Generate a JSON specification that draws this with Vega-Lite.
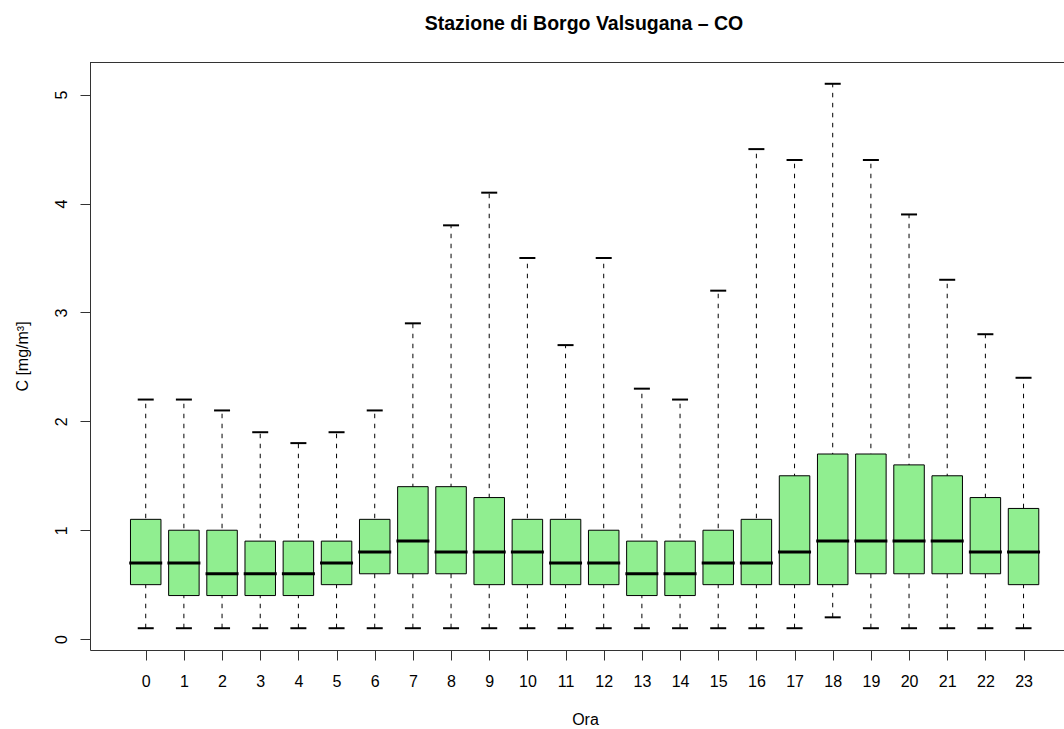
{
  "$schema": "https://vega.github.io/schema/vega-lite/v6.json",
  "autosize": {"type": "none"},
  "padding": {"left": 90, "top": 62, "right": 0, "bottom": 79},
  "width": 974,
  "height": 588,
  "background": "white",
  "config": {
    "font": "Liberation Sans",
    "view": {"stroke": null},
    "axis": {"grid": false}
  },
  "title": {
    "text": "Stazione di Borgo Valsugana – CO",
    "font": "Liberation Sans",
    "fontSize": 19.5,
    "fontWeight": "bold",
    "color": "black",
    "anchor": "middle",
    "dx": 7,
    "baseline": "alphabetic",
    "offset": 13
  },
  "data": {
    "values": [
      {"hour": 0, "low": 0.1, "q1": 0.5, "med": 0.7, "q3": 1.1, "high": 2.2},
      {"hour": 1, "low": 0.1, "q1": 0.4, "med": 0.7, "q3": 1.0, "high": 2.2},
      {"hour": 2, "low": 0.1, "q1": 0.4, "med": 0.6, "q3": 1.0, "high": 2.1},
      {"hour": 3, "low": 0.1, "q1": 0.4, "med": 0.6, "q3": 0.9, "high": 1.9},
      {"hour": 4, "low": 0.1, "q1": 0.4, "med": 0.6, "q3": 0.9, "high": 1.8},
      {"hour": 5, "low": 0.1, "q1": 0.5, "med": 0.7, "q3": 0.9, "high": 1.9},
      {"hour": 6, "low": 0.1, "q1": 0.6, "med": 0.8, "q3": 1.1, "high": 2.1},
      {"hour": 7, "low": 0.1, "q1": 0.6, "med": 0.9, "q3": 1.4, "high": 2.9},
      {"hour": 8, "low": 0.1, "q1": 0.6, "med": 0.8, "q3": 1.4, "high": 3.8},
      {"hour": 9, "low": 0.1, "q1": 0.5, "med": 0.8, "q3": 1.3, "high": 4.1},
      {"hour": 10, "low": 0.1, "q1": 0.5, "med": 0.8, "q3": 1.1, "high": 3.5},
      {"hour": 11, "low": 0.1, "q1": 0.5, "med": 0.7, "q3": 1.1, "high": 2.7},
      {"hour": 12, "low": 0.1, "q1": 0.5, "med": 0.7, "q3": 1.0, "high": 3.5},
      {"hour": 13, "low": 0.1, "q1": 0.4, "med": 0.6, "q3": 0.9, "high": 2.3},
      {"hour": 14, "low": 0.1, "q1": 0.4, "med": 0.6, "q3": 0.9, "high": 2.2},
      {"hour": 15, "low": 0.1, "q1": 0.5, "med": 0.7, "q3": 1.0, "high": 3.2},
      {"hour": 16, "low": 0.1, "q1": 0.5, "med": 0.7, "q3": 1.1, "high": 4.5},
      {"hour": 17, "low": 0.1, "q1": 0.5, "med": 0.8, "q3": 1.5, "high": 4.4},
      {"hour": 18, "low": 0.2, "q1": 0.5, "med": 0.9, "q3": 1.7, "high": 5.1},
      {"hour": 19, "low": 0.1, "q1": 0.6, "med": 0.9, "q3": 1.7, "high": 4.4},
      {"hour": 20, "low": 0.1, "q1": 0.6, "med": 0.9, "q3": 1.6, "high": 3.9},
      {"hour": 21, "low": 0.1, "q1": 0.6, "med": 0.9, "q3": 1.5, "high": 3.3},
      {"hour": 22, "low": 0.1, "q1": 0.6, "med": 0.8, "q3": 1.3, "high": 2.8},
      {"hour": 23, "low": 0.1, "q1": 0.5, "med": 0.8, "q3": 1.2, "high": 2.4}
    ]
  },
  "layer": [
    {
      "mark": {"type": "rule", "color": "black", "strokeWidth": 1, "strokeDash": [4.5, 5.5]},
      "encoding": {
        "x": {
          "field": "hour", "type": "quantitative",
          "scale": {"domain": [-1.46, 24.06], "nice": false, "zero": false, "padding": 0},
          "axis": {
            "orient": "bottom", "values": [0,1,2,3,4,5,6,7,8,9,10,11,12,13,14,15,16,17,18,19,20,21,22,23],
            "title": "Ora", "titleFontSize": 16, "titleFont": "Liberation Sans", "titleFontWeight": "normal", "titleColor": "black",
            "titleX": 495, "titleY": 74, "titleBaseline": "alphabetic", "titleAlign": "center",
            "labelFontSize": 16, "labelColor": "black", "labelFont": "Liberation Sans", "labelBaseline": "alphabetic", "labelPadding": 26.5,
            "labelFlush": false, "labelOverlap": false, "labelAngle": 0,
            "tickSize": 10, "tickColor": "#333", "tickWidth": 1,
            "domain": true, "domainColor": "#333", "domainWidth": 1, "grid": false, "format": "d"
          }
        },
        "y": {
          "field": "low", "type": "quantitative",
          "scale": {"domain": [-0.1, 5.3], "nice": false, "zero": false, "padding": 0},
          "axis": {
            "orient": "left", "values": [0,1,2,3,4,5],
            "title": "C [mg/m³]", "titleFontSize": 16, "titleFont": "Liberation Sans", "titleFontWeight": "normal", "titleColor": "black",
            "titleX": -63, "titleY": 294, "titleAngle": 270, "titleBaseline": "alphabetic", "titleAlign": "center",
            "labelFontSize": 16, "labelColor": "black", "labelFont": "Liberation Sans", "labelAngle": 270, "labelAlign": "center", "labelBaseline": "alphabetic", "labelPadding": 14,
            "labelFlush": false, "labelOverlap": false,
            "tickSize": 10, "tickColor": "#333", "tickWidth": 1,
            "domain": true, "domainColor": "#333", "domainWidth": 1, "grid": false, "format": "d"
          }
        },
        "y2": {"field": "high"}
      }
    },
    {
      "mark": {"type": "tick", "orient": "horizontal", "color": "black", "size": 16, "thickness": 2, "opacity": 1},
      "encoding": {
        "x": {"field": "hour", "type": "quantitative"},
        "y": {"field": "low", "type": "quantitative"}
      }
    },
    {
      "mark": {"type": "tick", "orient": "horizontal", "color": "black", "size": 16, "thickness": 2, "opacity": 1},
      "encoding": {
        "x": {"field": "hour", "type": "quantitative"},
        "y": {"field": "high", "type": "quantitative"}
      }
    },
    {
      "mark": {"type": "bar", "fill": "#90EE90", "stroke": "black", "strokeWidth": 1, "width": 30.5, "opacity": 1},
      "encoding": {
        "x": {"field": "hour", "type": "quantitative"},
        "y": {"field": "q1", "type": "quantitative"},
        "y2": {"field": "q3"}
      }
    },
    {
      "mark": {"type": "tick", "orient": "horizontal", "color": "black", "size": 33, "thickness": 3, "opacity": 1},
      "encoding": {
        "x": {"field": "hour", "type": "quantitative"},
        "y": {"field": "med", "type": "quantitative"}
      }
    },
    {
      "mark": {"type": "rule", "color": "#333", "strokeWidth": 1},
      "encoding": {
        "y": {"datum": 5.2954, "type": "quantitative"}
      }
    }
  ]
}
